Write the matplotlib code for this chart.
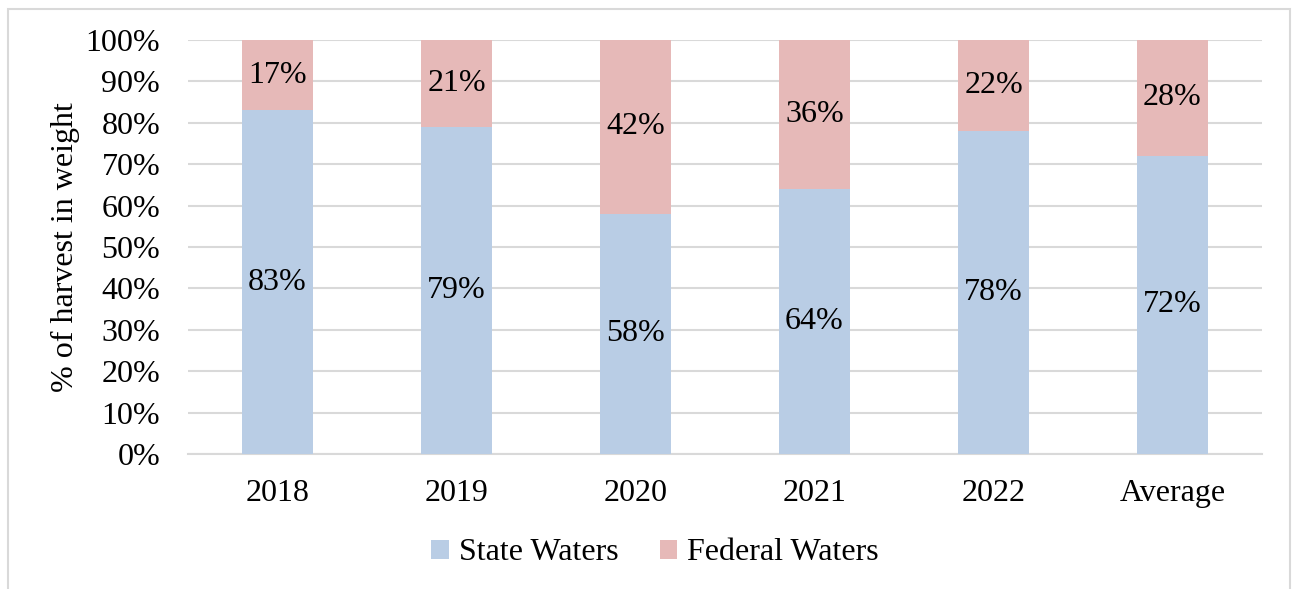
import matplotlib
matplotlib.use("Agg")
import matplotlib.pyplot as plt
from matplotlib.patches import Rectangle

plt.rcParams["font.family"] = ["Liberation Serif", "DejaVu Serif"]
plt.rcParams["font.size"] = 23

categories = ["2018", "2019", "2020", "2021", "2022", "Average"]
state_waters = [83, 79, 58, 64, 78, 72]
federal_waters = [17, 21, 42, 36, 22, 28]

state_color = "#B9CDE5"
federal_color = "#E6B9B8"
grid_color = "#D9D9D9"

fig = plt.figure(figsize=(12.93, 5.89), dpi=100)
ax = fig.add_axes([188 / 1293, 1 - 454 / 589, (1262 - 188) / 1293, (454 - 40) / 589])

# outer chart border (bottom edge runs off the image)
fig.patches.append(Rectangle((8 / 1293, -0.05), (1290 - 8) / 1293, 1.05 - 9 / 589,
                             transform=fig.transFigure, fill=False,
                             edgecolor="#D9D9D9", linewidth=1.5))

x = range(len(categories))
b1 = ax.bar(x, state_waters, width=0.4, color=state_color, label="State Waters", zorder=3)
b2 = ax.bar(x, federal_waters, width=0.4, bottom=state_waters, color=federal_color,
            label="Federal Waters", zorder=3)
ax.bar_label(b1, labels=[f"{v}%" for v in state_waters], label_type="center", fontsize=23)
ax.bar_label(b2, labels=[f"{v}%" for v in federal_waters], label_type="center", fontsize=23)

ax.set_xlim(-0.5, len(categories) - 0.5)
ax.set_ylim(0, 100)
ax.set_yticks(range(0, 101, 10))
ax.set_yticklabels([f"{v}%" for v in range(0, 101, 10)])
ax.set_xticks(list(x))
ax.set_xticklabels(categories)
ax.tick_params(axis="both", length=0, labelsize=23)
ax.tick_params(axis="y", pad=20)
ax.tick_params(axis="x", pad=18)
ax.grid(axis="y", color=grid_color, linewidth=1.5, zorder=0)
for side in ["top", "right", "left"]:
    ax.spines[side].set_visible(False)
ax.spines["bottom"].set_color(grid_color)
ax.spines["bottom"].set_linewidth(1.5)

ax.set_ylabel("% of harvest in weight", fontsize=23)
ax.yaxis.set_label_coords((80 - 188) / (1262 - 188), 0.5)

fig.legend(handles=[b1, b2], loc="center", bbox_to_anchor=(655 / 1293, 1 - 553 / 589),
           ncol=2, frameon=False, fontsize=23, handlelength=0.55, handleheight=0.55,
           columnspacing=1.3, handletextpad=0.3)

fig.savefig("out.png", dpi=100)
